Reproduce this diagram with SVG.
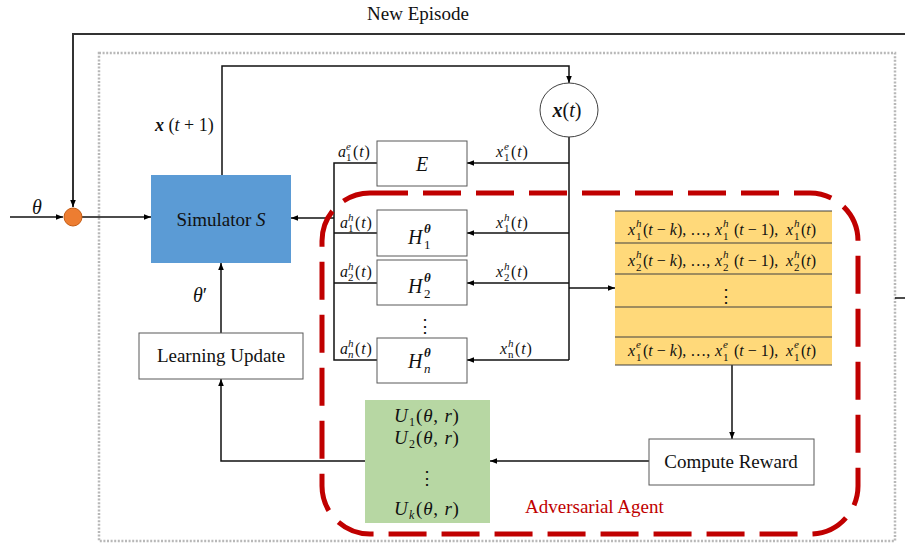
<svg xmlns="http://www.w3.org/2000/svg" width="905" height="544" viewBox="0 0 905 544">
<defs>
<marker id="ar" viewBox="0 0 10 10" refX="10" refY="5" markerWidth="7" markerHeight="7" markerUnits="userSpaceOnUse" orient="auto"><path d="M0,1 L10,5 L0,9 z" fill="#000"/></marker>
</defs>
<style>
.ln{stroke:#111;stroke-width:1.5;fill:none}
.ep{stroke:#333;stroke-width:2;fill:none}
.box{fill:#fff;stroke:#595959;stroke-width:1}
.t{font-family:"Liberation Serif",serif;font-size:19px;fill:#111}
.mi{font-family:"Liberation Serif",serif;font-style:italic;fill:#111}
.up{font-style:normal}
.it{font-style:italic}
.sc{font-size:11px}
.lb{font-size:16px}
.r{font-size:16px}
.dots{font-family:"DejaVu Serif",serif;font-size:18px;fill:#111;text-anchor:middle}
</style>
<rect id="frame" x="99" y="53" width="796" height="488" fill="none" stroke="#b8b8b8" stroke-width="2.5" stroke-dasharray="2 1.6"/>
<text class="t" x="418" y="20" text-anchor="middle">New Episode</text>

<g id="connectors">
<path class="ep" d="M905,34 H73 V207" marker-end="url(#ar)"/>
<path class="ln" d="M895,298 H905"/>
<path class="ln" d="M10,217 H63" marker-end="url(#ar)"/>
<path class="ln" d="M82,217 H151" marker-end="url(#ar)"/>
<path class="ln" d="M222,175 V66 H569 V83" marker-end="url(#ar)"/>
<path class="ln" d="M569,137 V360"/>
<path class="ln" d="M569,163 H467" marker-end="url(#ar)"/>
<path class="ln" d="M569,233 H467" marker-end="url(#ar)"/>
<path class="ln" d="M569,283 H467" marker-end="url(#ar)"/>
<path class="ln" d="M569,360 H467" marker-end="url(#ar)"/>
<path class="ln" d="M377,163 H334 V360 H377 M334,233 H377 M334,283 H377"/>
<path class="ln" d="M334,218 H291" marker-end="url(#ar)"/>
<path class="ln" d="M569,288 H615" marker-end="url(#ar)"/>
<path class="ln" d="M732,365 V439" marker-end="url(#ar)"/>
<path class="ln" d="M649,461 H490" marker-end="url(#ar)"/>
<path class="ln" d="M365,461 H221 V379" marker-end="url(#ar)"/>
<path class="ln" d="M221,333 V263" marker-end="url(#ar)"/>
</g>

<g id="sum">
<circle cx="73" cy="217" r="9" fill="#ED7D31" stroke="#C55A11" stroke-width="1"/>
</g>
<text class="mi" x="37" y="214" font-size="20" text-anchor="middle">θ</text>
<text class="mi" x="193" y="302" font-size="20">θ<tspan class="up">′</tspan></text>

<g id="simulator">
<rect x="151" y="175" width="140" height="88" fill="#5B9BD5"/>
<text class="t" x="221" y="226" text-anchor="middle">Simulator <tspan class="it">S</tspan></text>
</g>
<text class="mi" x="155" y="131" font-size="18"><tspan font-weight="bold">x</tspan><tspan class="up"> (</tspan>t<tspan class="up"> + 1)</tspan></text>

<g id="xt">
<ellipse cx="569" cy="110" rx="29" ry="27" fill="#fff" stroke="#404040" stroke-width="1"/>
<text class="mi" x="567" y="117" font-size="20" text-anchor="middle"><tspan font-weight="bold">x</tspan><tspan class="up">(</tspan>t<tspan class="up">)</tspan></text>
</g>

<g id="E">
<rect class="box" x="377" y="141" width="90" height="45"/>
<text class="mi" x="422" y="171" font-size="20" text-anchor="middle">E</text>
</g>
<g id="H1">
<rect class="box" x="377" y="210" width="90" height="46"/>
<text class="mi" x="408" y="244" font-size="20">H<tspan font-size="13" font-weight="bold" x="424" y="233">θ</tspan><tspan class="up" font-size="13" x="424" y="249">1</tspan></text>
</g>
<g id="H2">
<rect class="box" x="377" y="260" width="90" height="45"/>
<text class="mi" x="408" y="293" font-size="20">H<tspan font-size="13" font-weight="bold" x="424" y="282">θ</tspan><tspan class="up" font-size="13" x="424" y="298">2</tspan></text>
</g>
<text class="dots" x="425" y="332">⋮</text>
<g id="Hn">
<rect class="box" x="377" y="338" width="90" height="45"/>
<text class="mi" x="408" y="368" font-size="20">H<tspan font-size="13" font-weight="bold" x="424" y="357">θ</tspan><tspan font-size="13" x="424" y="373">n</tspan></text>
</g>

<g id="labels" class="mi lb">
<text x="338" y="157">a<tspan class="sc" x="346" y="150">e</tspan><tspan class="sc up" x="346" y="161">1</tspan><tspan x="353" y="157" letter-spacing="0.8"><tspan class="up">(</tspan>t<tspan class="up">)</tspan></tspan></text>
<text x="340" y="228">a<tspan class="sc" x="348" y="221">h</tspan><tspan class="sc up" x="348" y="232">1</tspan><tspan x="355" y="228" letter-spacing="0.8"><tspan class="up">(</tspan>t<tspan class="up">)</tspan></tspan></text>
<text x="340" y="277">a<tspan class="sc" x="348" y="270">h</tspan><tspan class="sc up" x="348" y="281">2</tspan><tspan x="355" y="277" letter-spacing="0.8"><tspan class="up">(</tspan>t<tspan class="up">)</tspan></tspan></text>
<text x="340" y="354">a<tspan class="sc" x="348" y="347">h</tspan><tspan class="sc" x="348" y="358">n</tspan><tspan x="355" y="354" letter-spacing="0.8"><tspan class="up">(</tspan>t<tspan class="up">)</tspan></tspan></text>
<text x="496" y="157">x<tspan class="sc" x="504" y="150">e</tspan><tspan class="sc up" x="504" y="161">1</tspan><tspan x="511" y="157" letter-spacing="0.8"><tspan class="up">(</tspan>t<tspan class="up">)</tspan></tspan></text>
<text x="496" y="228">x<tspan class="sc" x="504" y="221">h</tspan><tspan class="sc up" x="504" y="232">1</tspan><tspan x="511" y="228" letter-spacing="0.8"><tspan class="up">(</tspan>t<tspan class="up">)</tspan></tspan></text>
<text x="496" y="277">x<tspan class="sc" x="504" y="270">h</tspan><tspan class="sc up" x="504" y="281">2</tspan><tspan x="511" y="277" letter-spacing="0.8"><tspan class="up">(</tspan>t<tspan class="up">)</tspan></tspan></text>
<text x="500" y="354">x<tspan class="sc" x="508" y="347">h</tspan><tspan class="sc up" x="508" y="358">n</tspan><tspan x="515" y="354" letter-spacing="0.8"><tspan class="up">(</tspan>t<tspan class="up">)</tspan></tspan></text>
</g>

<g id="history">
<rect x="615" y="211" width="217" height="154" fill="#FFD97A"/>
<path d="M615,211 H832 M615,243 H832 M615,274 H832 M615,307 H832 M615,337 H832 M615,365 H832" stroke="#404040" stroke-width="1.2" fill="none"/>
<text class="mi r" y="235"><tspan x="628">x</tspan><tspan class="sc" x="636" y="227">h</tspan><tspan class="sc up" x="636" y="240">1</tspan><tspan class="up" x="643" y="235">(<tspan class="it">t</tspan> − <tspan class="it">k</tspan>), …,</tspan><tspan x="715">x</tspan><tspan class="sc" x="723" y="227">h</tspan><tspan class="sc up" x="723" y="240">1</tspan><tspan class="up" x="730" y="235"> (<tspan class="it">t</tspan> − 1),</tspan><tspan x="786">x</tspan><tspan class="sc" x="794" y="227">h</tspan><tspan class="sc up" x="794" y="240">1</tspan><tspan class="up" x="801" y="235">(<tspan class="it">t</tspan>)</tspan></text>
<text class="mi r" y="266"><tspan x="628">x</tspan><tspan class="sc" x="636" y="258">h</tspan><tspan class="sc up" x="636" y="271">2</tspan><tspan class="up" x="643" y="266">(<tspan class="it">t</tspan> − <tspan class="it">k</tspan>), …,</tspan><tspan x="715">x</tspan><tspan class="sc" x="723" y="258">h</tspan><tspan class="sc up" x="723" y="271">2</tspan><tspan class="up" x="730" y="266"> (<tspan class="it">t</tspan> − 1),</tspan><tspan x="786">x</tspan><tspan class="sc" x="794" y="258">h</tspan><tspan class="sc up" x="794" y="271">2</tspan><tspan class="up" x="801" y="266">(<tspan class="it">t</tspan>)</tspan></text>
<text class="dots" x="726" y="302">⋮</text>
<text class="mi r" y="356"><tspan x="628">x</tspan><tspan class="sc" x="636" y="348">e</tspan><tspan class="sc up" x="636" y="361">1</tspan><tspan class="up" x="643" y="356">(<tspan class="it">t</tspan> − <tspan class="it">k</tspan>), …,</tspan><tspan x="715">x</tspan><tspan class="sc" x="723" y="348">e</tspan><tspan class="sc up" x="723" y="361">1</tspan><tspan class="up" x="730" y="356"> (<tspan class="it">t</tspan> − 1),</tspan><tspan x="786">x</tspan><tspan class="sc" x="794" y="348">e</tspan><tspan class="sc up" x="794" y="361">1</tspan><tspan class="up" x="801" y="356">(<tspan class="it">t</tspan>)</tspan></text>
</g>

<g id="reward">
<rect class="box" x="649" y="439" width="165" height="46"/>
<text class="t" x="731" y="468" text-anchor="middle">Compute Reward</text>
</g>

<g id="utility">
<rect x="365" y="400" width="125" height="123" fill="#B7D7A3"/>
<text class="mi" font-size="19" letter-spacing="0.8"><tspan x="394" y="422">U</tspan><tspan class="up" font-size="12" x="409" y="426">1</tspan><tspan class="up" x="416" y="422">(<tspan class="it">θ</tspan>, <tspan class="it">r</tspan>)</tspan></text>
<text class="mi" font-size="19" letter-spacing="0.8"><tspan x="394" y="444">U</tspan><tspan class="up" font-size="12" x="409" y="448">2</tspan><tspan class="up" x="416" y="444">(<tspan class="it">θ</tspan>, <tspan class="it">r</tspan>)</tspan></text>
<text class="dots" x="427" y="484">⋮</text>
<text class="mi" font-size="19" letter-spacing="0.8"><tspan x="394" y="515">U</tspan><tspan font-size="12" x="409" y="519">k</tspan><tspan class="up" x="416" y="515">(<tspan class="it">θ</tspan>, <tspan class="it">r</tspan>)</tspan></text>
</g>

<g id="learning">
<rect class="box" x="139" y="333" width="164" height="46"/>
<text class="t" x="221" y="362" text-anchor="middle">Learning Update</text>
</g>

<g id="agent">
<rect x="322" y="193" width="536" height="341" rx="48" ry="48" fill="none" stroke="#C00000" stroke-width="5" stroke-dasharray="38 15"/>
<text class="t" x="525" y="513" style="fill:#C00000">Adversarial Agent</text>
</g>
</svg>
